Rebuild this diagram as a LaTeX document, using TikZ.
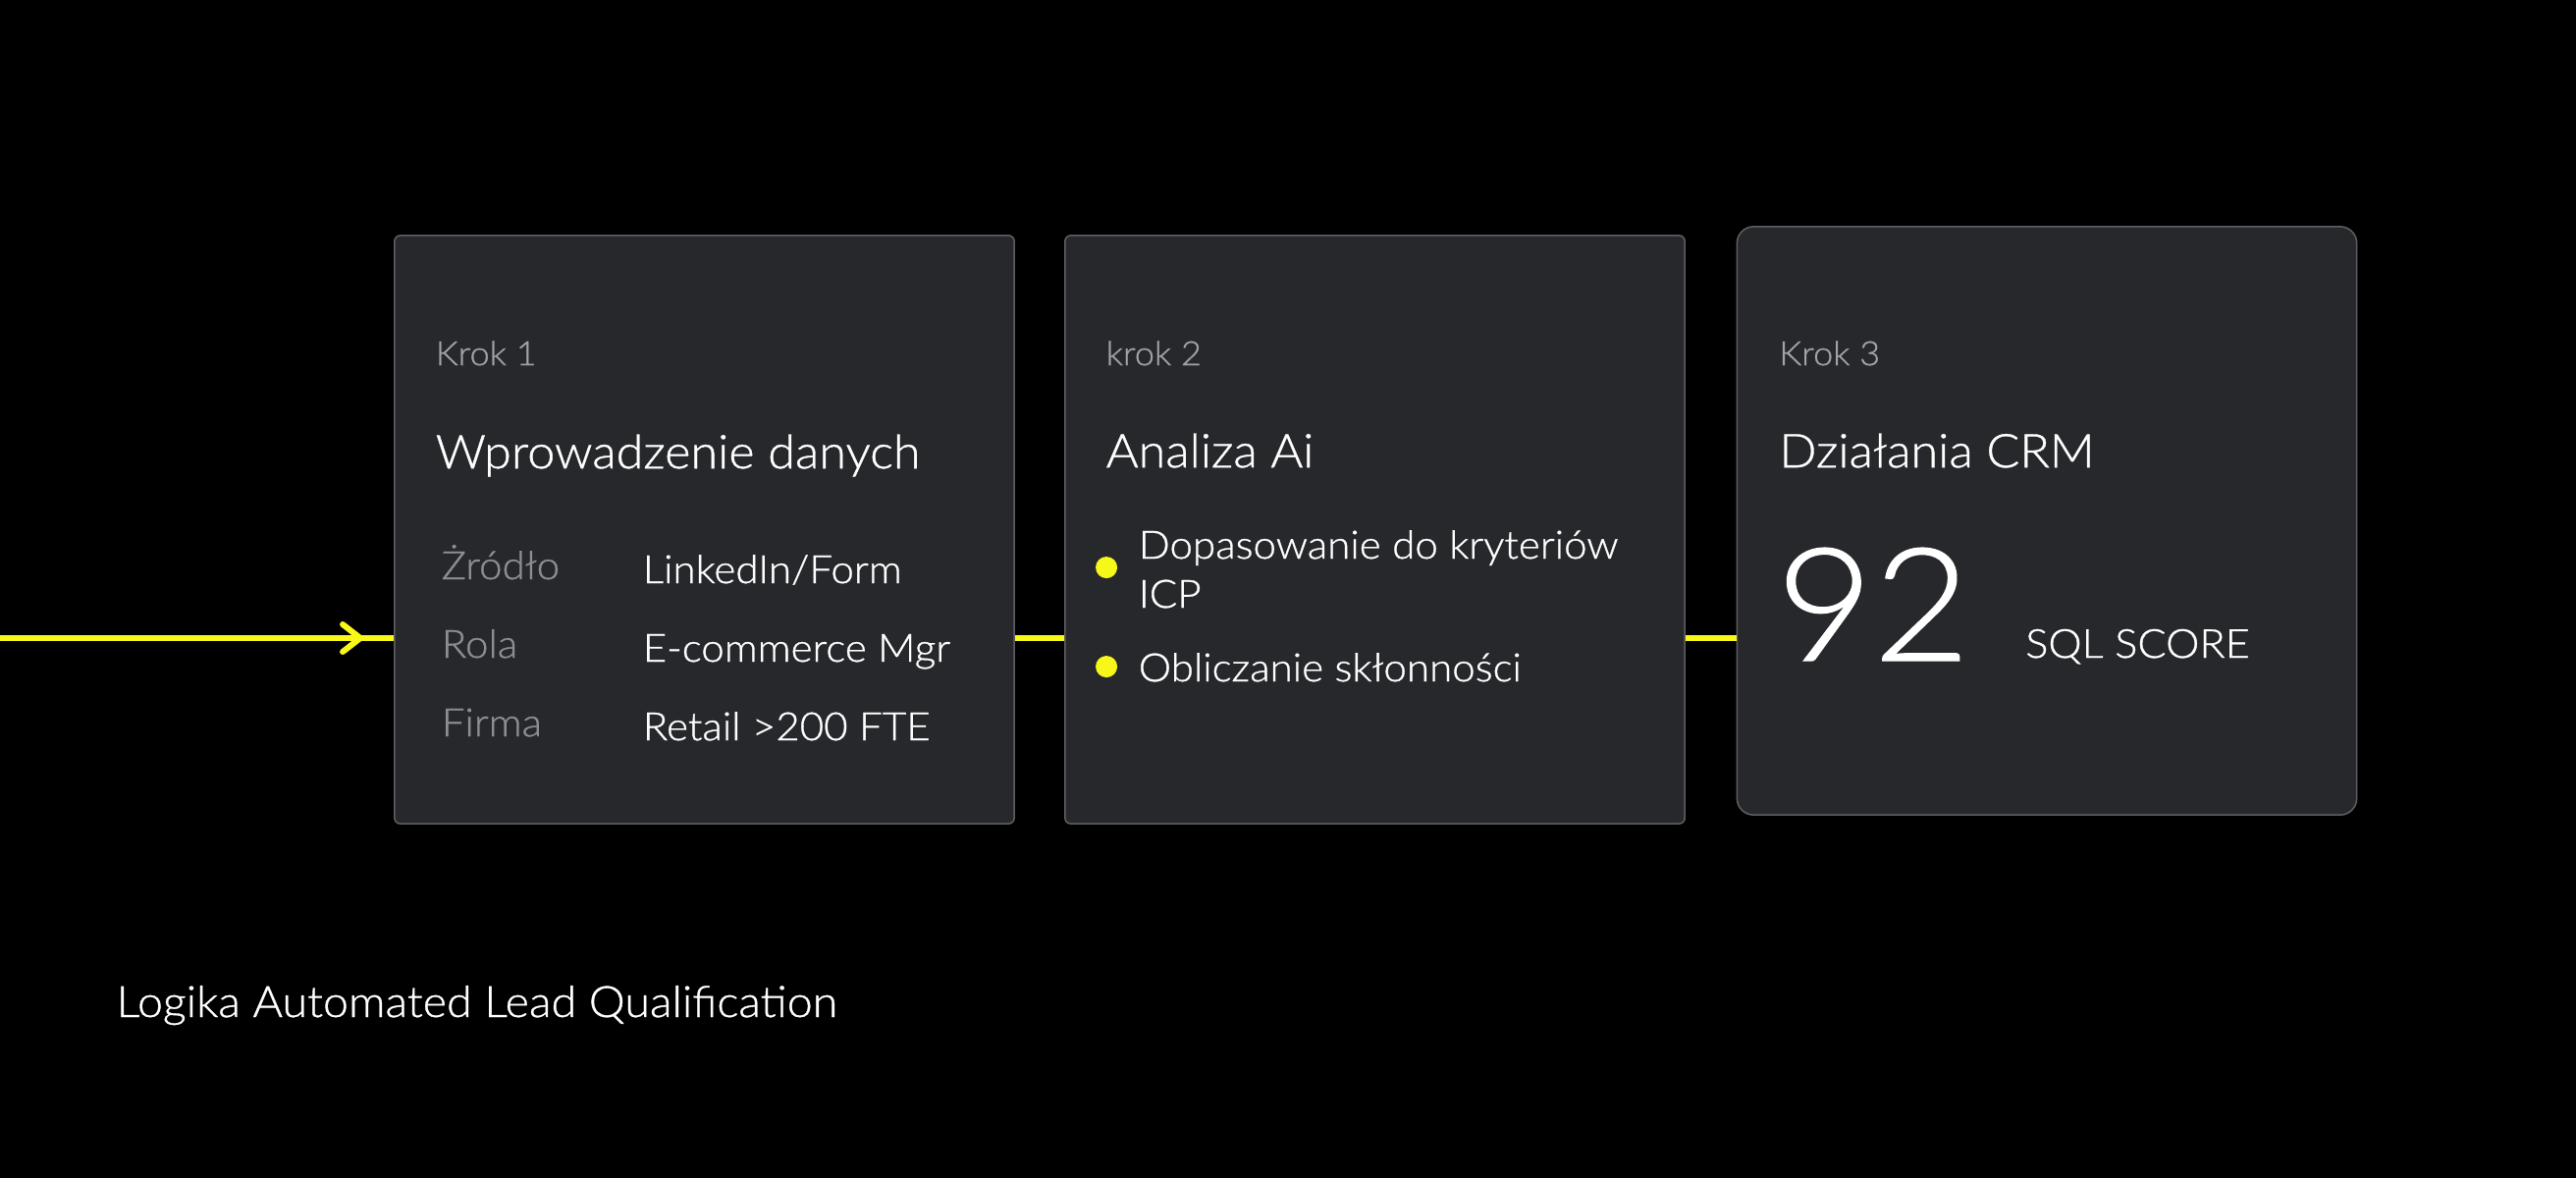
\documentclass[tikz,border=0pt]{standalone}
\usepackage{fontspec}
\IfFontExistsTF{Lato Light}
{\setmainfont{Lato Light}[FakeStretch=1.06,FakeBold=0.8]}
{\setmainfont{Lato}[FakeStretch=1.06]}
\usepackage{tikz}
\usetikzlibrary{%
  arrows.meta,%
  calc,%
  positioning%
}
\definecolor{cardbg}{HTML}{27282C}
\definecolor{cardline}{HTML}{5E5F63}
\definecolor{signal}{HTML}{F7F71A}
\definecolor{muted}{HTML}{A3A3A6}
\definecolor{keygray}{HTML}{8E8E91}

\begin{document}
\begin{tikzpicture}[x=0.01cm,y=-0.01cm,
      card/.style={draw=cardline,fill=cardbg,line width=0.15mm,
        rounded corners=0.6mm,minimum width=6.31cm,minimum height=5.99cm},
      flow/.style={signal,line width=0.6mm},
      dot/.style={circle,fill=signal,inner sep=0pt,minimum size=2.2mm},
      txt/.style={anchor=base west,inner sep=0pt,text=white},
      krok/.style={txt,text=muted,font=\fontsize{9.7}{12}\selectfont},
      head/.style={txt,font=\fontsize{13.5}{16}\selectfont},
      key/.style={txt,text=keygray,font=\fontsize{11.3}{14}\selectfont},
      val/.style={txt,font=\fontsize{11.3}{14}\selectfont}]
      \fill[black] (0,0) rectangle (2624,1200);
      \useasboundingbox (0,0) rectangle (2624,1200);
      \node[card] (box1) at (717.5,539.5) {};
      \node[card] (box2) at (1400.5,539.5) {};
      \node[card,rounded corners=1.7mm] (box3) at (2085,530.5) {};
      \coordinate (src) at (0,650);
      \draw[flow] (src) -- (box1.west |- src);
      \draw[flow,-{Straight Barb[length=1.8mm,width=2.8mm,round]}] (src)
      -- ($(box1.west |- src)+(-31,0)$);
      \draw[flow] (box1.east |- src) -- (box2.west |- src);
      \draw[flow] (box2.east |- src) -- (box3.west |- src);
      \node[krok] (k1) at ($(box1.north west)+(42,133)$) {Krok 1};
      \node[head] (t1) at ($(box1.north west)+(42,238)$)
      {Wprowadzenie danych};
      \node[key] (src1) at ($(box1.north west)+(48,351)$) {Żródło};
      \node[key] (rol1) at ($(box1.north west)+(48,431)$) {Rola};
      \node[key] (fir1) at ($(box1.north west)+(48,511)$) {Firma};
      \node[val] (src2) at ($(box1.north west)+(253,355)$) {LinkedIn/Form};
      \node[val] (rol2) at ($(box1.north west)+(253,435)$) {E-commerce Mgr};
      \node[val] (fir2) at ($(box1.north west)+(253,515)$)
      {Retail >200 FTE};
      \node[krok] (k2) at ($(box2.north west)+(42,133)$) {krok 2};
      \node[head] (t2) at ($(box2.north west)+(42,237)$) {Analiza Ai};
      \node[dot] (d1) at ($(box2.north west)+(43,339)$) {};
      \node[dot] (d2) at ($(box2.north west)+(43,440)$) {};
      \node[val] (b1) at ($(box2.north west)+(75,330)$)
      {Dopasowanie do kryteriów};
      \node[val] (b1b) at ($(box2.north west)+(75,380)$) {ICP};
      \node[val] (b2) at ($(box2.north west)+(75,455)$)
      {Obliczanie skłonności};
      \node[krok] (k3) at ($(box3.north west)+(43,142)$) {Krok 3};
      \node[head] (t3) at ($(box3.north west)+(43,246)$) {Działania CRM};
      \node[txt,font=\fontsize{45.7}{50}\selectfont] (score)
      at ($(box3.north west)+(40,443)$) {92};
      \node[txt,font=\fontsize{11.6}{14}\selectfont] (sql)
      at ($(box3.north west)+(294,440)$) {SQL SCORE};
      \node[txt,font=\fontsize{12.5}{15}\selectfont] (cap) at (118,1036)
      {Logika Automated Lead Qualification};
    \end{tikzpicture}
\end{document}
